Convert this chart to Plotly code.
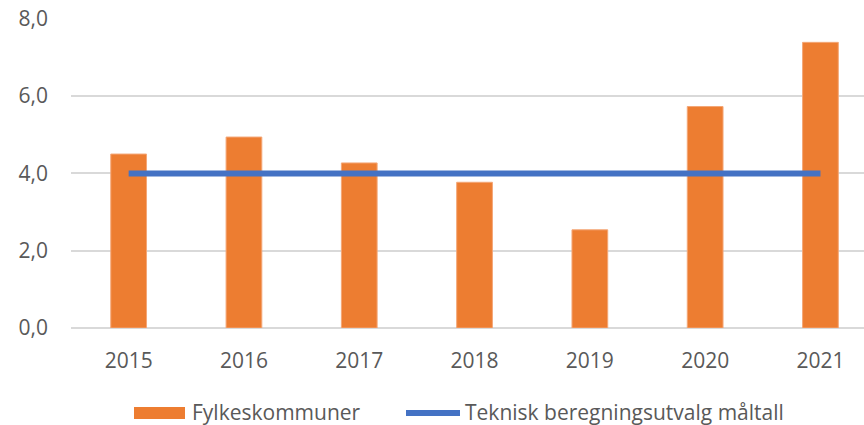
import plotly.graph_objects as go

years = ["2015", "2016", "2017", "2018", "2019", "2020", "2021"]
fylkeskommuner = [4.50, 4.94, 4.27, 3.77, 2.54, 5.73, 7.39]
maltall = [4.0, 4.0, 4.0, 4.0, 4.0, 4.0, 4.0]
y_ticks = [0, 2, 4, 6, 8]
y_tick_labels = ["0,0", "2,0", "4,0", "6,0", "8,0"]
legend_names = ["Fylkeskommuner", "Teknisk beregningsutvalg måltall"]

ORANGE = "#ED7D31"
BLUE = "#4472C4"
TEXT = "#595959"
FONT = "Open Sans, Segoe UI, sans-serif"

W, H = 864, 425
ML, MR, MT, MB = 71, 0, 18, 97
PW = W - ML - MR
PH = H - MT - MB
YMAX = 8.02

fig = go.Figure()
fig.add_trace(go.Bar(
    x=years, y=fylkeskommuner, name=legend_names[0],
    marker=dict(color=ORANGE, line=dict(color="#F4A777", width=1)),
    width=0.31, showlegend=False,
))
fig.add_trace(go.Scatter(
    x=years, y=maltall, name=legend_names[1], mode="lines",
    line=dict(color=BLUE, width=6), showlegend=False,
))

def px2x(px):
    return (px - ML) / PW

def px2y(py):
    return (H - MB - py) / PH

shapes = [
    dict(type="rect", xref="paper", yref="paper",
         x0=px2x(134), x1=px2x(185), y0=px2y(419), y1=px2y(407),
         fillcolor=ORANGE, line=dict(width=0)),
    dict(type="line", xref="paper", yref="paper",
         x0=px2x(406), x1=px2x(460), y0=px2y(413), y1=px2y(413),
         line=dict(color=BLUE, width=6)),
]
annotations = [
    dict(text=legend_names[0], xref="paper", yref="paper",
         x=px2x(190), y=px2y(412), xanchor="left", yanchor="middle",
         showarrow=False, font=dict(family=FONT, size=21, color=TEXT)),
    dict(text=legend_names[1], xref="paper", yref="paper",
         x=px2x(463), y=px2y(412), xanchor="left", yanchor="middle",
         showarrow=False, font=dict(family=FONT, size=21, color=TEXT)),
]

fig.update_layout(
    width=W, height=H,
    margin=dict(l=ML, r=MR, t=MT, b=MB, pad=0),
    paper_bgcolor="white", plot_bgcolor="white",
    font=dict(family=FONT, size=21, color=TEXT),
    shapes=shapes, annotations=annotations,
)
fig.update_xaxes(
    type="category", range=[-0.5, -0.5 + PW / 115.3],
    showgrid=False, showline=False, zeroline=False,
    ticks="", ticklabelstandoff=18,
    tickfont=dict(family=FONT, size=21, color=TEXT),
)
fig.update_yaxes(
    range=[0, YMAX], tickvals=y_ticks, ticktext=y_tick_labels,
    showgrid=True, gridcolor="#D9D9D9", gridwidth=1.5,
    zeroline=True, zerolinecolor="#D9D9D9", zerolinewidth=1.5,
    showline=False, ticks="", ticklabelstandoff=22,
    tickfont=dict(family=FONT, size=21, color=TEXT),
)

fig.write_html(
    "out.html",
    config={"displayModeBar": False},
    post_script="document.body.style.margin='0';document.body.style.overflow='hidden';",
)
